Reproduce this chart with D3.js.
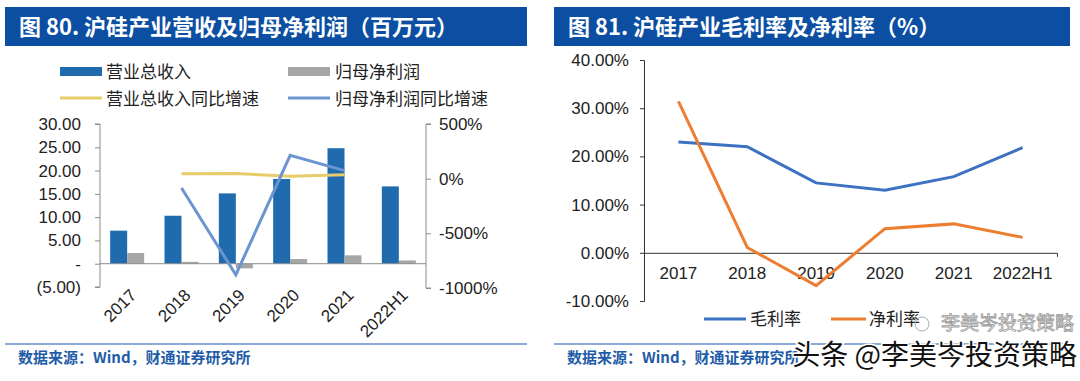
<!DOCTYPE html>
<html lang="zh">
<head>
<meta charset="UTF-8">
<title>沪硅产业</title>
<script src="https://d3js.org/d3.v7.min.js"></script>
<style>
    body { margin: 0; background: #fff; }
    svg { display: block; font-family: "Liberation Sans", Arial, sans-serif; }
    .cjk { font-family: "Noto Sans CJK SC", sans-serif; }
</style>
</head>
<body>
<svg id="chart" width="1080" height="381"></svg>
<script>
// ---- data ----
const years = ["2017", "2018", "2019", "2020", "2021", "2022H1"];
const revenue = [7.1, 10.3, 15.1, 18.2, 24.8, 16.6];          // 营业总收入
const netProfit = [2.3, 0.4, -1.0, 1.0, 1.8, 0.7];             // 归母净利润
const revGrowth = [null, 45, 47, 21, 36, null];                // 营业总收入同比增速 (%)
const profitGrowth = [null, -85, -880, 213, 74, null];         // 归母净利润同比增速 (%)
const leftTicks = [-5, 0, 5, 10, 15, 20, 25, 30];
const rightTicks = [-1000, -500, 0, 500];

const grossMargin = [23.0, 22.0, 14.5, 13.0, 15.8, 21.8];     // 毛利率 (%)
const netMargin = [31.4, 1.1, -6.8, 5.0, 6.0, 3.2];            // 净利率 (%)
const marginTicks = [-10, 0, 10, 20, 30, 40];

const svg = d3.select("#chart");
const titleBlue = "#0B4EA2";

// ---- panel frames: title bars + source notes ----
function panelFrame(x0, x1, title) {
    svg.append("rect").attr("x", x0).attr("y", 7).attr("width", x1 - x0).attr("height", 39)
        .attr("fill", titleBlue);
    svg.append("text").attr("class", "cjk").attr("x", x0 + 14).attr("y", 35)
        .attr("fill", "#fff").attr("font-size", 22).attr("font-weight", "bold")
        .text(title);
    svg.append("line").attr("x1", x0).attr("x2", x1).attr("y1", 344).attr("y2", 344)
        .attr("stroke", "#8DAAD6").attr("stroke-width", 2);
    svg.append("text").attr("class", "cjk").attr("x", x0 + 13).attr("y", 363)
        .attr("fill", "#1F5CA8").attr("font-size", 15).attr("font-weight", "bold")
        .text("数据来源：Wind，财通证券研究所");
}
panelFrame(5, 527, "图 80. 沪硅产业营收及归母净利润（百万元）");
panelFrame(554, 1070, "图 81. 沪硅产业毛利率及净利率（%）");

// ---- left chart ----
const defs = svg.append("defs");
defs.append("filter").attr("id", "soft").append("feGaussianBlur").attr("stdDeviation", 0.7);

const x1 = d3.scaleBand().domain(years).range([100, 426]);
const yL = d3.scaleLinear().domain([-5, 30]).range([287, 124]);
const yR = d3.scaleLinear().domain([-1000, 500]).range([288, 124]);
const axisGray = "#8C8C8C";

const fmtLeft = v => v === 0 ? "-" : v < 0 ? `(${Math.abs(v).toFixed(2)})` : v.toFixed(2);

const gL = svg.append("g").attr("transform", "translate(100,0)")
    .call(d3.axisLeft(yL).tickValues(leftTicks).tickSize(5).tickPadding(14).tickFormat(fmtLeft));
const gR = svg.append("g").attr("transform", "translate(426,0)")
    .call(d3.axisRight(yR).tickValues(rightTicks).tickSize(5).tickPadding(8).tickFormat(d => d + "%"));
[gL, gR].forEach(g => {
    g.selectAll("path, line").attr("stroke", axisGray);
    g.selectAll("text").attr("font-size", 17).attr("fill", "#222")
        .attr("font-family", "Liberation Sans, Arial, sans-serif");
});
gL.select(".domain").attr("d", `M-5,${yL(30)}H0V${yL(-5)}H-5`);
gR.select(".domain").attr("d", `M5,${yR(500)}H0V${yR(-1000)}H5`);

const barW = 17;
svg.append("g").selectAll("rect").data(years).join("rect")
    .attr("x", d => x1(d) + x1.bandwidth() / 2 - barW)
    .attr("y", (d, i) => yL(revenue[i]))
    .attr("width", barW)
    .attr("height", (d, i) => yL(0) - yL(revenue[i]))
    .attr("fill", "#1F6BAE");
svg.append("g").attr("filter", "url(#soft)").selectAll("rect").data(years).join("rect")
    .attr("x", d => x1(d) + x1.bandwidth() / 2)
    .attr("y", (d, i) => yL(Math.max(0, netProfit[i])))
    .attr("width", barW)
    .attr("height", (d, i) => Math.abs(yL(0) - yL(netProfit[i])))
    .attr("fill", "#A6A6A6");

// zero line
svg.append("line").attr("x1", 100).attr("x2", 426).attr("y1", yL(0)).attr("y2", yL(0))
    .attr("stroke", axisGray).attr("stroke-width", 1);

const lineL = arr => d3.line()
    .defined((d, i) => arr[i] !== null)
    .x((d, i) => x1(years[i]) + x1.bandwidth() / 2)
    .y((d, i) => yR(arr[i]))(arr);
svg.append("path").attr("d", lineL(revGrowth)).attr("fill", "none")
    .attr("stroke", "#E6CC6A").attr("stroke-width", 3);
svg.append("path").attr("d", lineL(profitGrowth)).attr("fill", "none")
    .attr("stroke", "#6B94D0").attr("stroke-width", 3);

// rotated x labels
svg.append("g").selectAll("text").data(years).join("text")
    .attr("transform", d => `translate(${x1(d) + x1.bandwidth() / 2 + 6},${292}) rotate(-45)`)
    .attr("text-anchor", "end").attr("dy", "0.35em")
    .attr("font-size", 17).attr("fill", "#222")
    .text(d => d);

// left legend
const legL = svg.append("g");
legL.append("rect").attr("x", 60).attr("y", 67).attr("width", 42).attr("height", 9).attr("fill", "#1F6BAE");
legL.append("rect").attr("x", 288).attr("y", 67).attr("width", 42).attr("height", 9).attr("fill", "#A6A6A6")
    .attr("filter", "url(#soft)");
legL.append("line").attr("x1", 60).attr("x2", 102).attr("y1", 98).attr("y2", 98)
    .attr("stroke", "#E6CC6A").attr("stroke-width", 3);
legL.append("line").attr("x1", 288).attr("x2", 330).attr("y1", 98).attr("y2", 98)
    .attr("stroke", "#6B94D0").attr("stroke-width", 3);
[["营业总收入", 106, 72], ["归母净利润", 335, 72], ["营业总收入同比增速", 106, 99], ["归母净利润同比增速", 335, 99]]
    .forEach(([t, x, y]) => legL.append("text").attr("class", "cjk").attr("x", x).attr("y", y)
        .attr("dy", "0.35em").attr("font-size", 17).attr("fill", "#222").text(t));

// ---- right chart ----
const x2 = d3.scaleBand().domain(years).range([644, 1057]);
const yM = d3.scaleLinear().domain([-10, 40]).range([301, 60]);

const gM = svg.append("g").attr("transform", "translate(644,0)")
    .call(d3.axisLeft(yM).tickValues(marginTicks).tickSize(4).tickPadding(11)
        .tickFormat(d => d.toFixed(2) + "%"));
gM.selectAll("path, line").attr("stroke", "#333");
gM.selectAll("text").attr("font-size", 17).attr("fill", "#222");

const gX = svg.append("g").attr("transform", `translate(0,${yM(0)})`)
    .call(d3.axisBottom(x2).tickSize(0).tickSizeOuter(4).tickPadding(14));
gX.select(".domain").attr("stroke", "#333");
gX.selectAll("text").attr("font-size", 17).attr("fill", "#222");

const lineR = arr => d3.line()
    .x((d, i) => x2(years[i]) + x2.bandwidth() / 2)
    .y(d => yM(d))(arr);
svg.append("path").attr("d", lineR(grossMargin)).attr("fill", "none")
    .attr("stroke", "#3D72C2").attr("stroke-width", 3);
svg.append("path").attr("d", lineR(netMargin)).attr("fill", "none")
    .attr("stroke", "#ED7D31").attr("stroke-width", 3);

// right legend
const legR = svg.append("g");
legR.append("line").attr("x1", 704).attr("x2", 746).attr("y1", 319).attr("y2", 319)
    .attr("stroke", "#3D72C2").attr("stroke-width", 3);
legR.append("line").attr("x1", 831).attr("x2", 866).attr("y1", 319).attr("y2", 319)
    .attr("stroke", "#ED7D31").attr("stroke-width", 3);
legR.append("text").attr("class", "cjk").attr("x", 750).attr("y", 319).attr("dy", "0.35em")
    .attr("font-size", 17).attr("fill", "#222").text("毛利率");
legR.append("text").attr("class", "cjk").attr("x", 869).attr("y", 319).attr("dy", "0.35em")
    .attr("font-size", 17).attr("fill", "#222").text("净利率");

// ---- watermarks ----
svg.append("text").attr("class", "cjk").attr("x", 1074).attr("y", 330).attr("text-anchor", "end")
    .attr("font-size", 19).attr("fill", "none").attr("stroke", "#999").attr("stroke-width", 0.8)
    .text("李美岑投资策略");
svg.append("circle").attr("cx", 922).attr("cy", 324).attr("r", 7)
    .attr("fill", "none").attr("stroke", "#aaa").attr("stroke-width", 1);
svg.append("text").attr("class", "cjk").attr("x", 1077).attr("y", 365).attr("text-anchor", "end")
    .attr("font-size", 28).attr("fill", "#111").attr("stroke", "#fff").attr("stroke-width", 3)
    .attr("paint-order", "stroke")
    .text("头条 @李美岑投资策略");
</script>
</body>
</html>
